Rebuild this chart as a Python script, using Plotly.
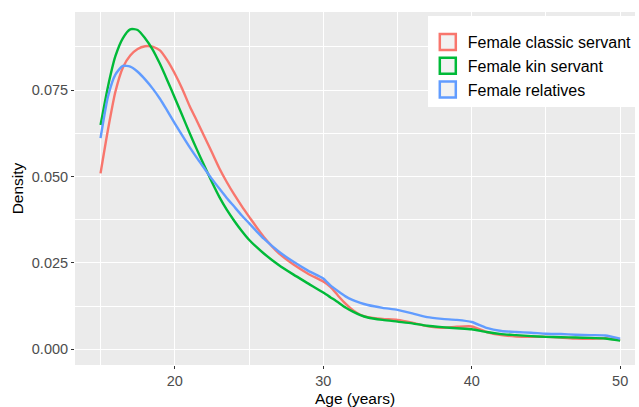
import plotly.graph_objects as go

age = [15, 15.5, 16, 16.5, 17, 17.5, 18, 18.5, 19, 19.5, 20, 20.5, 21, 21.5, 22, 22.5, 23, 23.5,
       24, 24.5, 25, 25.5, 26, 27, 28, 29, 30, 30.5, 31, 31.5, 32, 32.5, 33, 34, 35, 36, 37, 38,
       39, 40, 41, 42, 43, 44, 45, 46, 47, 48, 49, 50]

classic_servant = [0.0509, 0.0635, 0.0745, 0.0815, 0.0850, 0.0869, 0.0877, 0.0876, 0.0865, 0.0836,
                   0.0798, 0.0754, 0.0704, 0.0660, 0.0615, 0.0570, 0.0524, 0.0484, 0.0448, 0.0415,
                   0.0384, 0.0354, 0.0325, 0.0278, 0.0245, 0.0218, 0.0196, 0.0180, 0.0155, 0.0132,
                   0.0113, 0.0100, 0.0093, 0.0088, 0.0085, 0.0077, 0.0067, 0.0062, 0.0065, 0.0066,
                   0.0050, 0.0041, 0.0037, 0.0036, 0.0036, 0.0034, 0.0031, 0.0030, 0.0032, 0.0027]

kin_servant = [0.0649, 0.0760, 0.0848, 0.0900, 0.0926, 0.0924, 0.0900, 0.0868, 0.0826, 0.0778,
               0.0728, 0.0677, 0.0626, 0.0577, 0.0530, 0.0484, 0.0441, 0.0404, 0.0372, 0.0343,
               0.0317, 0.0296, 0.0277, 0.0244, 0.0216, 0.0190, 0.0164, 0.0150, 0.0136, 0.0121,
               0.0109, 0.0099, 0.0092, 0.0085, 0.0080, 0.0075, 0.0068, 0.0064, 0.0061, 0.0058,
               0.0050, 0.0044, 0.0041, 0.0038, 0.0036, 0.0035, 0.0034, 0.0033, 0.0031, 0.0025]

relatives = [0.0611, 0.0731, 0.0795, 0.0820, 0.0818, 0.0803, 0.0781, 0.0755, 0.0725, 0.0690,
             0.0654, 0.0619, 0.0585, 0.0553, 0.0523, 0.0493, 0.0465, 0.0438, 0.0413, 0.0388,
             0.0365, 0.0342, 0.0320, 0.0283, 0.0253, 0.0227, 0.0205, 0.0184, 0.0168, 0.0153,
             0.0142, 0.0134, 0.0128, 0.0120, 0.0114, 0.0104, 0.0093, 0.0088, 0.0085, 0.0079,
             0.0062, 0.0053, 0.0050, 0.0048, 0.0045, 0.0044, 0.0042, 0.0041, 0.0040, 0.0031]

series_names = ["Female classic servant", "Female kin servant", "Female relatives"]
series_values = [classic_servant, kin_servant, relatives]
series_colors = ["#F8766D", "#00BA38", "#619CFF"]

x_ticks = [20, 30, 40, 50]
x_minor = [15, 25, 35, 45]
y_ticks = [0.0, 0.025, 0.05, 0.075]
y_minor = [0.0125, 0.0375, 0.0625, 0.0875]

fig = go.Figure()
for name, vals, col in zip(series_names, series_values, series_colors):
    fig.add_trace(go.Scatter(x=age, y=vals, mode="lines", name=name, showlegend=False,
                             line=dict(color=col, width=2.4, shape="spline", smoothing=0.6)))
# legend keys (square boxes like ggplot)
for name, col in zip(series_names, series_colors):
    fig.add_trace(go.Scatter(x=[None], y=[None], mode="markers", name=name,
                             marker=dict(symbol="square", size=16, color="#F2F2F2",
                                         line=dict(color=col, width=2.5))))

font_family = "Liberation Sans, Arial, sans-serif"
fig.update_layout(
    width=639, height=407,
    margin=dict(l=75, r=2, t=12, b=42),
    paper_bgcolor="white",
    plot_bgcolor="#EBEBEB",
    font=dict(family=font_family, color="black"),
    legend=dict(x=0.630, y=0.989, xanchor="left", yanchor="top",
                bgcolor="white", font=dict(size=16, color="black"),
                title=dict(text=" ", font=dict(size=7)),
                itemsizing="trace"),
    xaxis=dict(range=[13.28, 51.0], tickvals=x_ticks, ticktext=[str(v) for v in x_ticks],
               showgrid=True, gridcolor="white", gridwidth=1.1, zeroline=False,
               ticks="outside", ticklen=3, tickcolor="#333333", tickwidth=1,
               tickfont=dict(size=14.5, color="#4D4D4D"), automargin=False,
               minor=dict(tickvals=x_minor, showgrid=True, gridcolor="white", gridwidth=0.5, ticks=""),
               title=dict(text="Age (years)", font=dict(size=15.5, color="black"), standoff=6),
               showline=False),
    yaxis=dict(range=[-0.00455, 0.0976], tickvals=y_ticks, tickformat=".3f",
               showgrid=True, gridcolor="white", gridwidth=1.1, zeroline=False,
               ticks="outside", ticklen=3, tickcolor="#333333", tickwidth=1,
               tickfont=dict(size=14.5, color="#4D4D4D"), automargin=False,
               minor=dict(tickvals=y_minor, showgrid=True, gridcolor="white", gridwidth=0.5, ticks=""),
               title=dict(text="Density", font=dict(size=15.5, color="black"), standoff=4),
               showline=False),
)
fig.write_html("out.html", config={"displayModeBar": False},
               post_script="document.body.style.margin='0';")
